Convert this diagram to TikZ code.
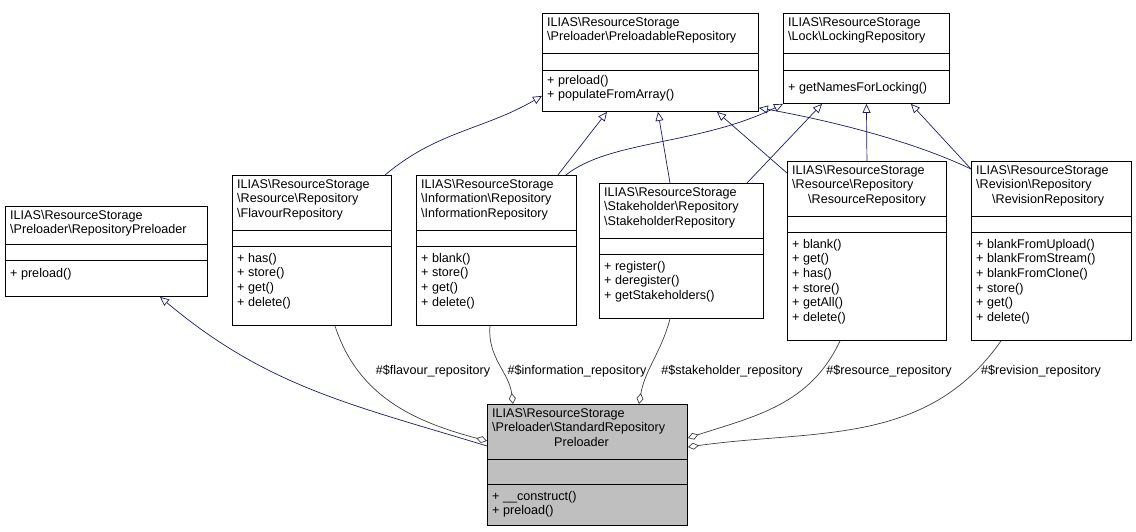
\documentclass[tikz,border=0pt]{standalone}
\usepackage{fontspec}
\setmainfont{Liberation Sans}
\usetikzlibrary{arrows.meta}

\definecolor{inhcol}{RGB}{25,25,112}
\definecolor{compcol}{RGB}{64,64,64}
\definecolor{stdfill}{RGB}{191,191,191}
\newcommand{\bs}{\textbackslash}

% class box: [options]{name}{x,y}{width}{sep1}{sep2}{height}{title}{methods}
\newcommand{\umlclass}[8][]{%
	\node [classbox, #1, minimum width=#4pt, minimum height=#7pt, anchor=north west] (#2) at (#3) {};
	\draw ([yshift=-#5pt]#2.north west) -- ([yshift=-#5pt]#2.north east);
	\draw ([yshift=-#6pt]#2.north west) -- ([yshift=-#6pt]#2.north east);
	\node [classtext, anchor=north west] at ([xshift=5pt,yshift=-4pt]#2.north west) {#8};
}
\newcommand{\umlmethods}[3]{%
	\node [classtext, anchor=north west] at ([xshift=5pt,yshift=-#2pt]#1.north west) {#3};
}

\tikzset{
	classbox/.style={draw=black, line width=0.9pt, fill=white, inner sep=0pt},
	classtext/.style={inner sep=0pt, align=left, font=\fontsize{12.6}{14.6}\selectfont},
	lbl/.style={inner sep=0pt, font=\fontsize{12.6}{14}\selectfont},
	inherit/.style={draw=inhcol, line width=0.7pt, -{Triangle[open,length=9pt,width=8pt]}},
	compose/.style={draw=compcol, line width=0.7pt, {Diamond[open,length=11pt,width=7pt]}-}
}

\begin{document}
\begin{tikzpicture}[x=1pt,y=-1pt]
	\useasboundingbox (0,0) rectangle (1136,531);

	\umlclass{rp}{5,206}{202}{38}{54}{90}{ILIAS\bs ResourceStorage\\\bs Preloader\bs RepositoryPreloader}
	\umlmethods{rp}{62}{+ preload()}
	\umlclass{pre}{542,13}{216}{40}{57}{98}{ILIAS\bs ResourceStorage\\\bs Preloader\bs PreloadableRepository}
	\umlmethods{pre}{62}{+ preload()\\+ populateFromArray()}
	\umlclass{lock}{783,13}{166}{40}{57}{90}{ILIAS\bs ResourceStorage\\\bs Lock\bs LockingRepository}
	\umlmethods{lock}{69}{+ getNamesForLocking()}
	\umlclass{flav}{232,175}{159}{55}{71}{150}{ILIAS\bs ResourceStorage\\\bs Resource\bs Repository\\\bs FlavourRepository}
	\umlmethods{flav}{78}{+ has()\\+ store()\\+ get()\\+ delete()}
	\umlclass{info}{416,175}{160}{55}{71}{150}{ILIAS\bs ResourceStorage\\\bs Information\bs Repository\\\bs InformationRepository}
	\umlmethods{info}{78}{+ blank()\\+ store()\\+ get()\\+ delete()}
	\umlclass{stake}{599,183}{164}{55}{71}{135}{ILIAS\bs ResourceStorage\\\bs Stakeholder\bs Repository\\\bs StakeholderRepository}
	\umlmethods{stake}{78}{+ register()\\+ deregister()\\+ getStakeholders()}
	\umlclass{res}{787,161}{159}{55}{71}{179}{ILIAS\bs ResourceStorage\\\bs Resource\bs Repository\\\hspace*{16pt}\bs ResourceRepository}
	\umlmethods{res}{78}{+ blank()\\+ get()\\+ has()\\+ store()\\+ getAll()\\+ delete()}
	\umlclass{rev}{971,161}{160}{55}{71}{179}{ILIAS\bs ResourceStorage\\\bs Revision\bs Repository\\\hspace*{16pt}\bs RevisionRepository}
	\umlmethods{rev}{78}{+ blankFromUpload()\\+ blankFromStream()\\+ blankFromClone()\\+ store()\\+ get()\\+ delete()}
	\umlclass[fill=stdfill]{std}{487,404}{200}{55}{80}{121}{ILIAS\bs ResourceStorage\\\bs Preloader\bs StandardRepository\\\hspace*{62pt}Preloader}
	\umlmethods{std}{87}{+ \_\_construct()\\+ preload()}

	% generalisation
	\draw [inherit] ([yshift=-42pt]std.north west) to[out=163,in=-40] ([xshift=155pt]rp.south west);
	\draw [inherit] ([xshift=153pt]flav.north west) to[out=40,in=-150] ([yshift=16pt]pre.south west);
	\draw [inherit] ([xshift=-19pt]info.north east) -- ([xshift=65pt]pre.south west);
	\draw [inherit] ([xshift=-11pt]info.north east) .. controls (610,140) and (700,145) .. (lock.south west);
	\draw [inherit] ([xshift=71pt]stake.north west) -- ([xshift=116pt]pre.south west);
	\draw [inherit] ([xshift=148pt]stake.north west) -- ([xshift=39pt]lock.south west);
	\draw [inherit] ([yshift=-12pt]res.north west) -- ([xshift=175pt]pre.south west);
	\draw [inherit] (res.north) -- (lock.south);
	\draw [inherit] ([yshift=-8pt]rev.north west) -- ([xshift=-39pt]lock.south east);
	\draw [inherit] ([yshift=-8pt]rev.north west) .. controls (900,135) and (800,115) .. ([yshift=4pt]pre.south east);

	% composition
	\draw [compose] ([yshift=-37pt]std.north west) to[out=165,in=-72] ([xshift=103pt]flav.south west);
	\draw [compose] ([xshift=26pt]std.north west) to[out=97,in=-95] ([xshift=74pt]info.south west);
	\draw [compose] ([xshift=152pt]std.north west) to[out=80,in=-105] ([xshift=71pt]stake.south west);
	\draw [compose] ([yshift=-34pt]std.north east) to[out=18,in=-115] ([xshift=53pt]res.south west);
	\draw [compose] ([yshift=-43pt]std.north east) to[out=8,in=-125] ([xshift=30pt]rev.south west);

	\node [lbl] (lflav) at (433,371) {\#\$flavour\_repository};
	\node [lbl] (linfo) at (577,371) {\#\$information\_repository};
	\node [lbl] (lstake) at (732,371) {\#\$stakeholder\_repository};
	\node [lbl] (lres) at (889,371) {\#\$resource\_repository};
	\node [lbl] (lrev) at (1041,371) {\#\$revision\_repository};
\end{tikzpicture}
\end{document}
